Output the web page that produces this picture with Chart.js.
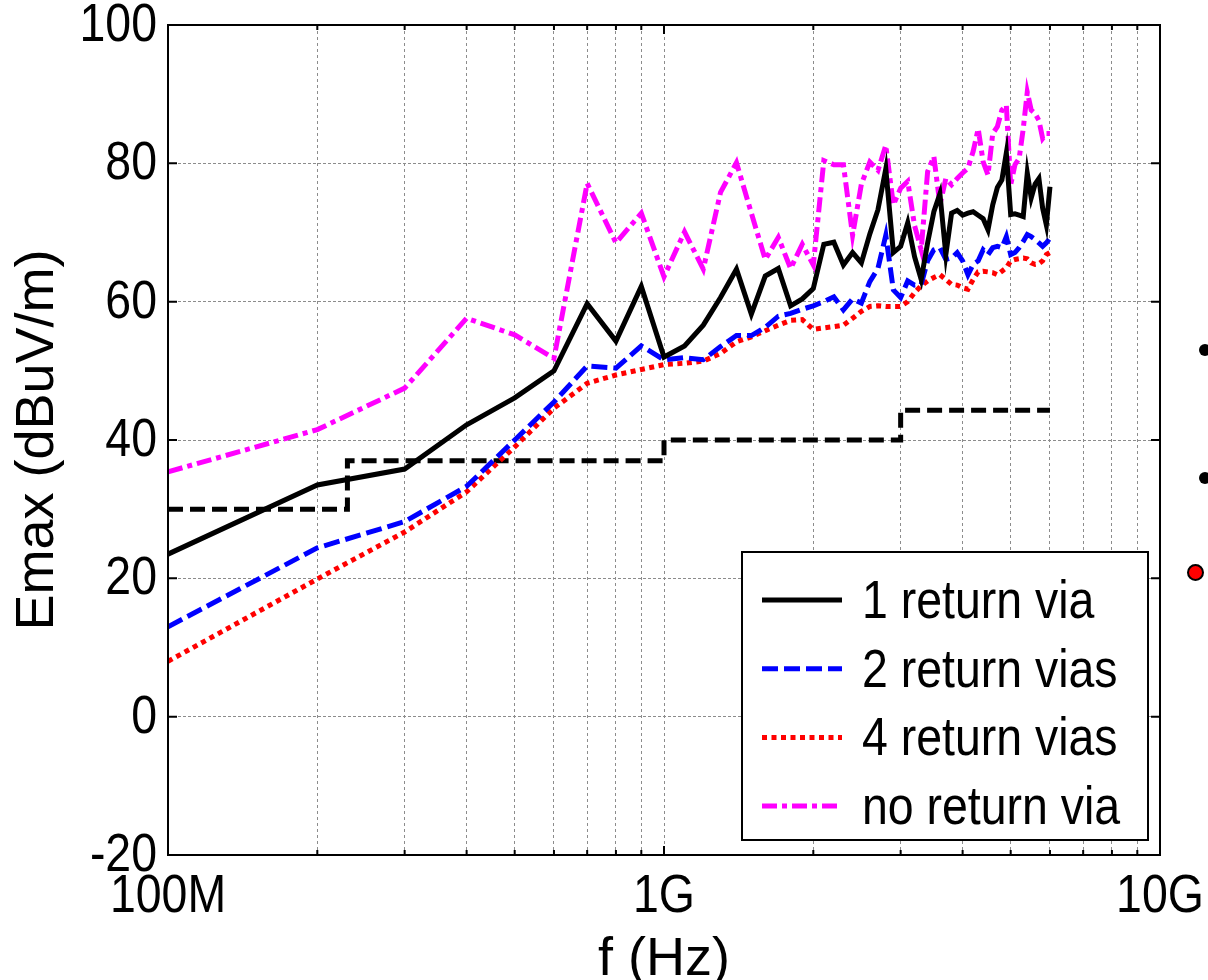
<!DOCTYPE html>
<html>
<head>
<meta charset="utf-8">
<title>Emax vs frequency</title>
<script src="https://cdn.jsdelivr.net/npm/chart.js@4.4.1/dist/chart.umd.min.js"></script>
<style>
  html, body { margin: 0; padding: 0; background: #fff; }
  #wrap { position: relative; width: 1208px; height: 980px; overflow: hidden; }
  .edge-dot { position: absolute; border-radius: 50%; box-sizing: border-box; }
</style>
</head>
<body>
<div id="wrap">
  <canvas id="emaxChart" width="1208" height="980"></canvas>
  <!-- bits of the neighbouring figure cut off at the right edge -->
  <div class="edge-dot" style="left:1199px;top:344px;width:12px;height:12px;background:#000"></div>
  <div class="edge-dot" style="left:1199px;top:472px;width:12px;height:12px;background:#000"></div>
  <div class="edge-dot" style="left:1187px;top:564px;width:17px;height:17px;background:#f00;border:2px solid #000"></div>
</div>
<script>
const FONT = '"Liberation Sans", Arial, sans-serif';
const SQUEEZE = 0.86; // the original figure's text is narrower than it is tall

// sample frequencies (MHz)
const freqMHz = [
  100, 200, 300, 400, 500, 600, 700, 800, 900, 1000,
  1100, 1200, 1300, 1400, 1500, 1600, 1700, 1800, 1900, 2000,
  2100, 2200, 2300, 2400, 2500, 2600, 2700, 2800, 2900, 3000,
  3100, 3200, 3300, 3400, 3500, 3600, 3700, 3800, 3900, 4000,
  4100, 4200, 4300, 4400, 4500, 4600, 4700, 4800, 4900, 5000,
  5100, 5200, 5300, 5400, 5500, 5600, 5700, 5800, 5900, 6000
];

// Emax (dBuV/m)
const emax1Via = [
  23.5, 33.5, 35.8, 42.2, 46.1, 50.0, 59.7, 54.3, 62.2, 52.0,
  53.6, 56.6, 60.6, 64.7, 58.2, 63.7, 64.8, 59.4, 60.4, 61.9,
  68.3, 68.6, 65.3, 67.1, 65.6, 69.8, 73.3, 79.2, 67.1, 68.0,
  71.4, 66.5, 63.2, 68.5, 73.0, 75.6, 66.8, 72.8, 73.2, 72.5,
  72.8, 73.0, 72.5, 72.0, 70.4, 74.0, 76.5, 77.6, 81.5, 72.6,
  72.7, 72.5, 72.3, 78.6, 75.0, 77.0, 77.8, 73.5, 71.1, 76.6
];
const emax2Vias = [
  13.0, 24.4, 28.2, 33.3, 40.0, 45.5, 50.7, 50.4, 53.6, 51.6,
  51.9, 51.6, 53.5, 55.1, 55.1, 56.3, 57.9, 58.3, 58.9, 59.4,
  60.0, 60.7, 58.8, 60.4, 59.8, 62.9, 64.8, 69.6, 61.7, 60.6,
  63.0, 62.4, 62.5, 65.9, 67.5, 67.8, 66.1, 66.3, 67.1, 65.9,
  63.9, 65.4, 65.9, 67.5, 66.8, 67.8, 68.0, 67.8, 69.4, 66.8,
  67.1, 67.8, 68.7, 69.7, 69.4, 69.0, 68.5, 68.0, 68.5, 69.2
];
const emax4Vias = [
  8.0, 19.9, 26.7, 32.5, 39.0, 44.6, 48.2, 49.4, 50.2, 50.9,
  51.1, 51.4, 52.5, 54.2, 54.9, 55.8, 56.6, 57.3, 57.4, 56.0,
  56.2, 56.4, 56.6, 57.6, 58.6, 59.3, 59.4, 59.3, 59.3, 59.3,
  60.0, 61.3, 62.3, 63.0, 63.5, 63.9, 63.2, 62.5, 62.4, 62.0,
  61.8, 63.2, 64.3, 64.4, 64.3, 64.2, 63.9, 64.4, 64.9, 65.9,
  66.1, 66.2, 66.3, 66.2, 65.6, 65.4, 65.5, 65.9, 66.8, 67.1
];
const emaxNoVia = [
  35.4, 41.5, 47.5, 57.6, 55.2, 51.8, 77.1, 68.5, 72.8, 63.6,
  70.1, 64.7, 75.8, 80.1, 72.8, 66.1, 69.3, 64.8, 68.3, 65.3,
  80.4, 79.8, 79.8, 69.6, 77.0, 80.2, 79.0, 82.6, 74.0, 76.4,
  77.4, 71.0, 67.5, 78.8, 81.0, 74.0, 77.8, 76.9, 77.8, 78.6,
  79.3, 81.7, 85.0, 80.2, 78.3, 84.3, 85.3, 87.7, 88.4, 76.9,
  79.8, 80.7, 85.0, 90.3, 87.7, 87.2, 86.2, 83.6, 84.3, 84.3
];

// emission limit (step line)
const limitMHz = [100, 230, 1000, 3000, 6000];
const limitDb = [30, 37, 40, 44.3, 44.3];

// axis ticks
const xGridMHz = [
  100, 200, 300, 400, 500, 600, 700, 800, 900,
  1000, 2000, 3000, 4000, 5000, 6000, 7000, 8000, 9000, 10000
];
const xTickLabels = { 100: '100M', 1000: '1G', 10000: '10G' };
const yMin = -20, yMax = 100, yStep = 20;

function toPoints(fs, vs) {
  return fs.map((f, i) => ({ x: f * 1e6, y: vs[i] }));
}

function squeezedText(ctx, text, x, y, align, baseline, size) {
  ctx.save();
  ctx.translate(x, y);
  ctx.scale(SQUEEZE, 1);
  ctx.font = size + 'px ' + FONT;
  ctx.textAlign = align;
  ctx.textBaseline = baseline;
  ctx.fillStyle = '#000';
  ctx.fillText(text, 0, 0);
  ctx.restore();
}

const framePlugin = {
  id: 'matlabFrameLegend',
  afterDraw(chart) {
    const { ctx, chartArea: a, scales } = chart;
    ctx.save();

    // inward tick marks on all four sides
    ctx.strokeStyle = '#000';
    ctx.lineWidth = 2;
    ctx.setLineDash([]);
    ctx.beginPath();
    scales.y.ticks.forEach(t => {
      const y = scales.y.getPixelForValue(t.value);
      ctx.moveTo(a.left, y); ctx.lineTo(a.left + 9, y);
      ctx.moveTo(a.right, y); ctx.lineTo(a.right - 9, y);
    });
    scales.x.ticks.forEach(t => {
      const x = scales.x.getPixelForValue(t.value);
      const len = xTickLabels[t.value / 1e6] ? 9 : 5;
      ctx.moveTo(x, a.bottom); ctx.lineTo(x, a.bottom - len);
      ctx.moveTo(x, a.top); ctx.lineTo(x, a.top + len);
    });
    ctx.stroke();
    ctx.strokeRect(a.left, a.top, a.right - a.left, a.bottom - a.top);

    // tick labels
    scales.y.ticks.forEach(t => {
      const y = scales.y.getPixelForValue(t.value);
      squeezedText(ctx, String(t.value), a.left - 11, y + 1, 'right', 'middle', 54);
    });
    scales.x.ticks.forEach(t => {
      const lbl = xTickLabels[t.value / 1e6];
      if (!lbl) return;
      const x = scales.x.getPixelForValue(t.value);
      squeezedText(ctx, lbl, x, a.bottom + 57, 'center', 'alphabetic', 54);
    });

    // legend box, bottom right inside the axes
    const items = chart.data.datasets.filter(d => d.inLegend);
    const boxW = 406, boxH = 288;
    const bx = a.right - 12 - boxW;
    const by = a.bottom - 15 - boxH;
    ctx.fillStyle = '#fff';
    ctx.fillRect(bx, by, boxW, boxH);
    ctx.lineWidth = 2;
    ctx.strokeRect(bx, by, boxW, boxH);

    items.forEach((d, i) => {
      const y = by + 48 + i * 68.7;
      ctx.strokeStyle = d.borderColor;
      ctx.lineWidth = d.borderWidth;
      ctx.setLineDash(d.borderDash || []);
      ctx.beginPath();
      ctx.moveTo(bx + 20, y);
      ctx.lineTo(bx + 100, y);
      ctx.stroke();
      ctx.setLineDash([]);
      squeezedText(ctx, d.label, bx + 120, y + 3, 'left', 'middle', 54);
    });
    ctx.restore();
  }
};

const ctx = document.getElementById('emaxChart').getContext('2d');
const emaxChart = new Chart(ctx, {
  type: 'line',
  data: {
    datasets: [
      {
        label: '1 return via', inLegend: true,
        data: toPoints(freqMHz, emax1Via),
        borderColor: '#000000', borderWidth: 5, borderDash: []
      },
      {
        label: '2 return vias', inLegend: true,
        data: toPoints(freqMHz, emax2Vias),
        borderColor: '#0000ff', borderWidth: 5, borderDash: [16, 6]
      },
      {
        label: '4 return vias', inLegend: true,
        data: toPoints(freqMHz, emax4Vias),
        borderColor: '#ff0000', borderWidth: 5, borderDash: [5, 4.5]
      },
      {
        label: 'no return via', inLegend: true,
        data: toPoints(freqMHz, emaxNoVia),
        borderColor: '#ff00ff', borderWidth: 5, borderDash: [15, 5, 5, 5]
      },
      {
        label: 'limit', inLegend: false,
        data: toPoints(limitMHz, limitDb),
        borderColor: '#000000', borderWidth: 5, borderDash: [15, 7],
        stepped: 'before'
      }
    ]
  },
  options: {
    responsive: false,
    animation: false,
    devicePixelRatio: 1,
    layout: { padding: { top: 25, right: 48, bottom: 0, left: 0 } },
    elements: {
      point: { radius: 0 },
      line: { tension: 0, fill: false, borderJoinStyle: 'miter', borderCapStyle: 'butt' }
    },
    plugins: {
      legend: { display: false },
      tooltip: { enabled: false }
    },
    scales: {
      x: {
        type: 'logarithmic',
        min: 1e8,
        max: 1e10,
        afterBuildTicks: (s) => { s.ticks = xGridMHz.map(f => ({ value: f * 1e6 })); },
        afterFit: (s) => { s.height = 125; s.paddingLeft = 0; s.paddingRight = 0; },
        ticks: { display: false, autoSkip: false, maxRotation: 0 },
        grid: { color: '#8c8c8c', lineWidth: 1, drawTicks: false },
        border: { display: false, dash: [3, 3] },
        title: {
          display: true,
          text: 'f (Hz)',
          color: '#000',
          font: { family: FONT, size: 54, lineHeight: 0.75 },
          padding: 0
        }
      },
      y: {
        min: yMin,
        max: yMax,
        afterFit: (s) => { s.width = 168; s.paddingTop = 0; s.paddingBottom = 0; },
        ticks: { display: false, stepSize: yStep },
        grid: { color: '#8c8c8c', lineWidth: 1, drawTicks: false },
        border: { display: false, dash: [3, 2] },
        title: {
          display: true,
          text: 'Emax (dBuV/m)',
          color: '#000',
          font: { family: FONT, size: 54 },
          padding: { top: 6, bottom: 0 }
        }
      }
    }
  },
  plugins: [framePlugin]
});
</script>
</body>
</html>
